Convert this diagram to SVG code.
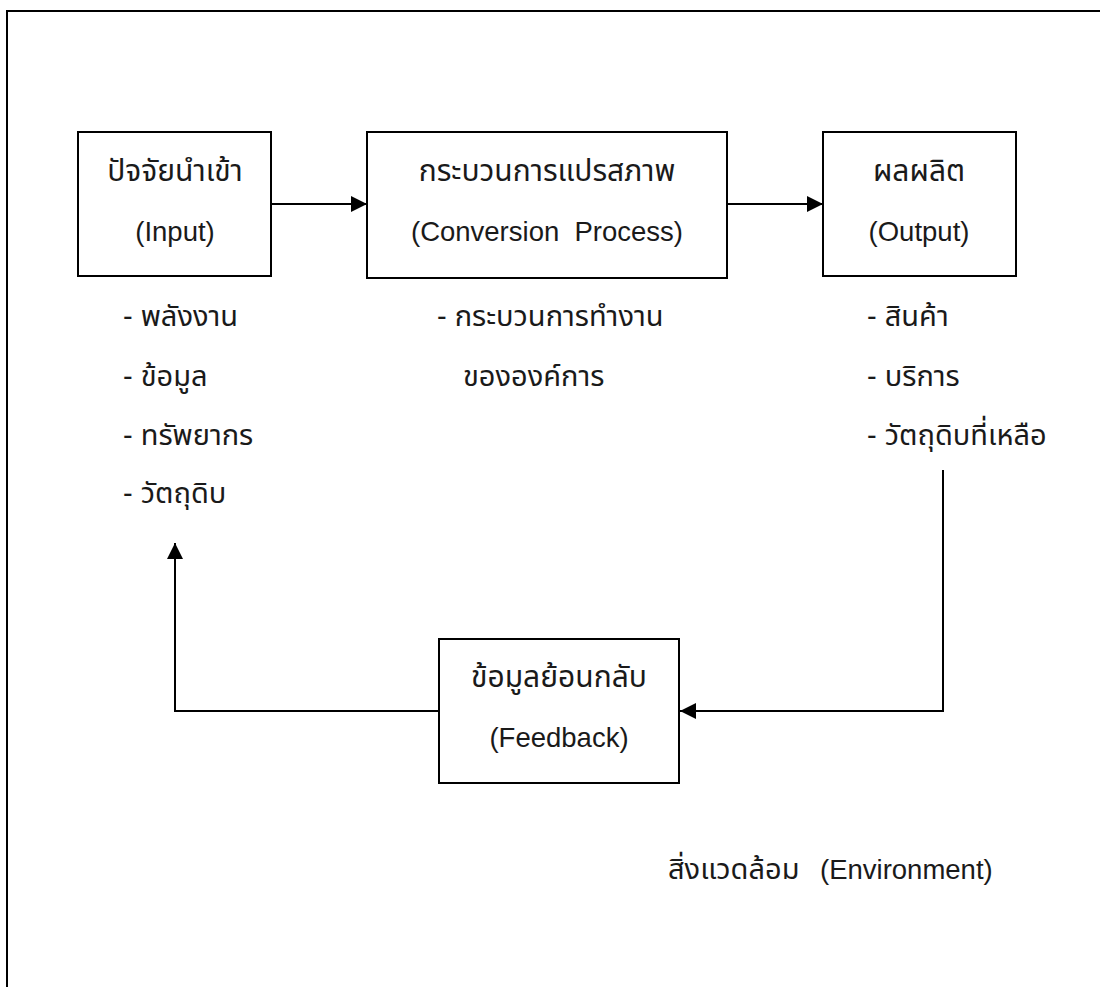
<svg xmlns="http://www.w3.org/2000/svg" width="1100" height="987" viewBox="0 0 1100 987">
<style>
.box{fill:#fff;stroke:#000;stroke-width:2}
.conn{fill:none;stroke:#000;stroke-width:2}
text{font-family:"Liberation Sans","Noto Sans Thai","Noto Sans",sans-serif;font-size:27.5px;fill:#1a1a1a}
.c{text-anchor:middle}
.th{font-size:30px}
.li{font-size:29px}
</style>
<defs>
<marker id="ah" viewBox="0 0 16 16" refX="16" refY="8" markerWidth="16" markerHeight="16" markerUnits="userSpaceOnUse" orient="auto">
<path d="M0,0 L16,8 L0,16 z" fill="#000"/>
</marker>
</defs>
<rect width="1100" height="987" fill="#fff"/>
<g id="environment">
<rect x="7" y="11" width="1200" height="1200" fill="none" stroke="#000" stroke-width="2"/>
<text x="668" y="879"><tspan class="li">สิ่งแวดล้อม</tspan><tspan x="820">(Environment)</tspan></text>
</g>
<g id="connectors">
<line class="conn" x1="271" y1="204" x2="367" y2="204" marker-end="url(#ah)"/>
<line class="conn" x1="727" y1="204" x2="823" y2="204" marker-end="url(#ah)"/>
<polyline class="conn" points="943,470 943,711 680,711" marker-end="url(#ah)"/>
<polyline class="conn" points="439,711 175,711 175,543" marker-end="url(#ah)"/>
</g>
<g id="input">
<rect class="box" x="78" y="132" width="193" height="144"/>
<text class="c th" x="175" y="181">ปัจจัยนำเข้า</text>
<text class="c" x="175" y="241">(Input)</text>
</g>
<g id="conversion">
<rect class="box" x="367" y="132" width="360" height="146"/>
<text class="c th" x="547" y="181">กระบวนการแปรสภาพ</text>
<text class="c" x="547" y="241" xml:space="preserve">(Conversion  Process)</text>
</g>
<g id="output">
<rect class="box" x="823" y="132" width="193" height="144"/>
<text class="c th" x="919" y="181">ผลผลิต</text>
<text class="c" x="919" y="241">(Output)</text>
</g>
<g id="feedback">
<rect class="box" x="439" y="639" width="240" height="144"/>
<text class="c th" x="559" y="687">ข้อมูลย้อนกลับ</text>
<text class="c" x="559" y="747">(Feedback)</text>
</g>
<g id="input-list">
<text class="li" x="123" y="326">- พลังงาน</text>
<text class="li" x="123" y="386">- ข้อมูล</text>
<text class="li" x="123" y="445">- ทรัพยากร</text>
<text class="li" x="123" y="503">- วัตถุดิบ</text>
</g>
<g id="process-list">
<text class="li" x="437" y="326">- กระบวนการทำงาน</text>
<text class="li" x="463" y="386">ขององค์การ</text>
</g>
<g id="output-list">
<text class="li" x="867" y="326">- สินค้า</text>
<text class="li" x="867" y="386">- บริการ</text>
<text class="li" x="867" y="445">- วัตถุดิบที่เหลือ</text>
</g>
</svg>
